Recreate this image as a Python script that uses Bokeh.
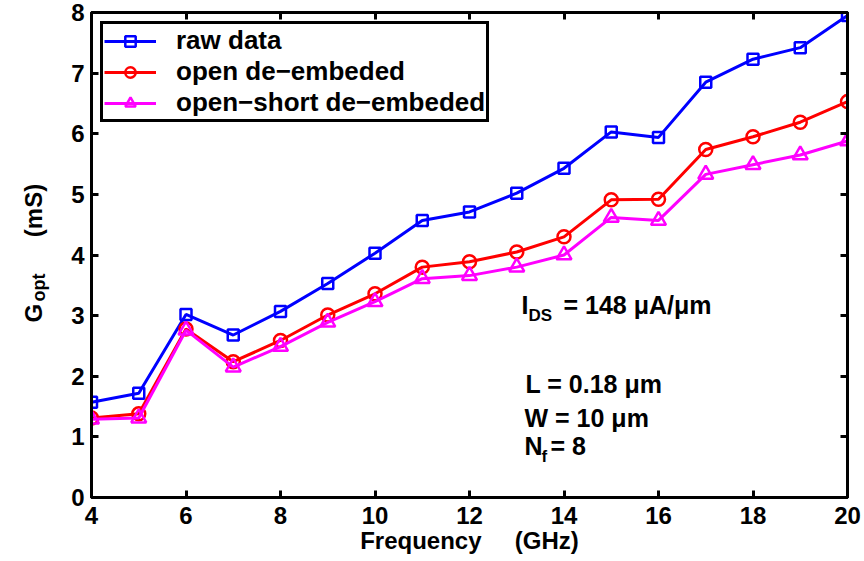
import numpy as np
from bokeh.plotting import figure
from bokeh.models import Range1d, LinearAxis, FixedTicker, Label, Legend, LegendItem
from bokeh.embed import file_html
from bokeh.resources import INLINE

# ---------------- data ----------------
freq = [4, 5, 6, 7, 8, 9, 10, 11, 12, 13, 14, 15, 16, 17, 18, 19, 20]
raw_data = [1.57, 1.72, 3.02, 2.68, 3.07, 3.53, 4.03, 4.57, 4.71, 5.02, 5.43,
            6.03, 5.94, 6.85, 7.23, 7.42, 7.95]
open_deembeded = [1.31, 1.38, 2.78, 2.24, 2.59, 3.01, 3.36, 3.80, 3.89, 4.05, 4.30,
                  4.91, 4.92, 5.74, 5.95, 6.19, 6.53]
open_short_deembeded = [1.29, 1.31, 2.76, 2.15, 2.49, 2.89, 3.23, 3.61, 3.66, 3.80, 4.00,
                        4.62, 4.57, 5.33, 5.49, 5.65, 5.88]
x_ticks = [4, 6, 8, 10, 12, 14, 16, 18, 20]
y_ticks = [0, 1, 2, 3, 4, 5, 6, 7, 8]
series_names = ["raw data", "open de\u2212embeded", "open\u2212short de\u2212embeded"]

BLUE, RED, MAGENTA = "#0000ff", "#ff0000", "#ff00ff"
FONT = "Liberation Sans"
NB = "\u00a0"

# frame geometry (pixels) used for placing the free text
FL, FR, FT, FB = 91, 847, 12, 497
X0, X1, Y0, Y1 = 4, 20, 0, 8


def dx(px):
    return X0 + (px - FL) * (X1 - X0) / (FR - FL)


def dy(py):
    return Y0 + (FB - py) * (Y1 - Y0) / (FB - FT)


p = figure(width=864, height=561, x_range=Range1d(X0, X1), y_range=Range1d(Y0, Y1),
           output_backend="svg", toolbar_location=None,
           min_border_left=FL, min_border_right=864 - FR,
           min_border_top=FT, min_border_bottom=561 - FB)
p.xgrid.visible = False
p.ygrid.visible = False
p.outline_line_color = "black"
p.outline_line_width = 3
p.background_fill_color = "white"
p.border_fill_color = "white"

xax = p.below[0]
yax = p.left[0]
top = LinearAxis()
right = LinearAxis()
p.add_layout(top, "above")
p.add_layout(right, "right")

for ax, ticks in ((xax, x_ticks), (top, x_ticks), (yax, y_ticks), (right, y_ticks)):
    ax.ticker = FixedTicker(ticks=ticks)
    ax.axis_line_width = 3
    ax.axis_line_color = "black"
    ax.major_tick_line_width = 3
    ax.major_tick_line_color = "black"
    ax.major_tick_in = 7
    ax.major_tick_out = 0
    ax.minor_tick_line_color = None
    ax.major_label_text_font = FONT
    ax.major_label_text_font_style = "bold"
    ax.major_label_text_font_size = "24px"
    ax.major_label_text_color = "black"

for ax in (top, right):
    ax.major_label_text_font_size = "1px"
    ax.major_label_text_color = None
    ax.major_label_standoff = 0

xax.major_label_standoff = 9
yax.major_label_standoff = 7
xax.axis_label = "Frequency" + NB * 5 + "(GHz)"
xax.axis_label_text_font = FONT
xax.axis_label_text_font_style = "bold"
xax.axis_label_text_font_size = "24px"
xax.axis_label_text_color = "black"
xax.axis_label_standoff = 0

# ---------------- series ----------------
l1 = p.line(freq, raw_data, line_color=BLUE, line_width=3)
m1 = p.scatter(freq, raw_data, marker="square", size=11, line_color=BLUE,
               fill_color=None, line_width=2.5)
l2 = p.line(freq, open_deembeded, line_color=RED, line_width=3)
m2 = p.scatter(freq, open_deembeded, marker="circle", size=13, line_color=RED,
               fill_color=None, line_width=2.5)
l3 = p.line(freq, open_short_deembeded, line_color=MAGENTA, line_width=3)
m3 = p.scatter(freq, open_short_deembeded, marker="triangle", size=15, line_color=MAGENTA,
               fill_color=None, line_width=2.5)

legend = Legend(items=[LegendItem(label=series_names[0], renderers=[l1, m1]),
                       LegendItem(label=series_names[1], renderers=[l2, m2]),
                       LegendItem(label=series_names[2], renderers=[l3, m3])],
                location="top_left", margin=9, padding=1, spacing=0,
                glyph_width=52, glyph_height=26, label_standoff=20,
                label_text_font=FONT, label_text_font_style="bold",
                label_text_font_size="26px", label_text_color="black",
                border_line_color="black", border_line_width=3, border_line_alpha=1.0,
                background_fill_color="white", background_fill_alpha=1.0)
p.add_layout(legend)


# ---------------- free text ----------------
def txt(px, py, s, size="25px", angle=0.0, side=None):
    if side:
        lab = Label(x=px, y=py, x_units="canvas", y_units="canvas", text=s, angle=angle)
    else:
        lab = Label(x=dx(px), y=dy(py), text=s, angle=angle)
    lab.text_font = FONT
    lab.text_font_style = "bold"
    lab.text_font_size = size
    lab.text_color = "black"
    lab.text_align = "left"
    lab.text_baseline = "alphabetic"
    if side:
        p.add_layout(lab, side)
    else:
        p.add_layout(lab)


# y axis label (rotated, placed in the left panel)
txt(33, 322, "G" + NB * 10 + "(mS)", "24px", np.pi / 2, side="left")
txt(38, 301, "opt", "18px", np.pi / 2, side="left")

# annotations
txt(521, 304, "I")
txt(528, 315, "DS", "17px")
txt(563, 304, "= 148 \u03bcA/\u03bcm")
txt(525, 383, "L = 0.18 \u03bcm")
txt(524, 417, "W = 10 \u03bcm")
txt(524, 445, "N")
txt(541, 456, "f", "17px")
txt(550, 445, "= 8")

open("out.html", "w").write(file_html(p, INLINE))
